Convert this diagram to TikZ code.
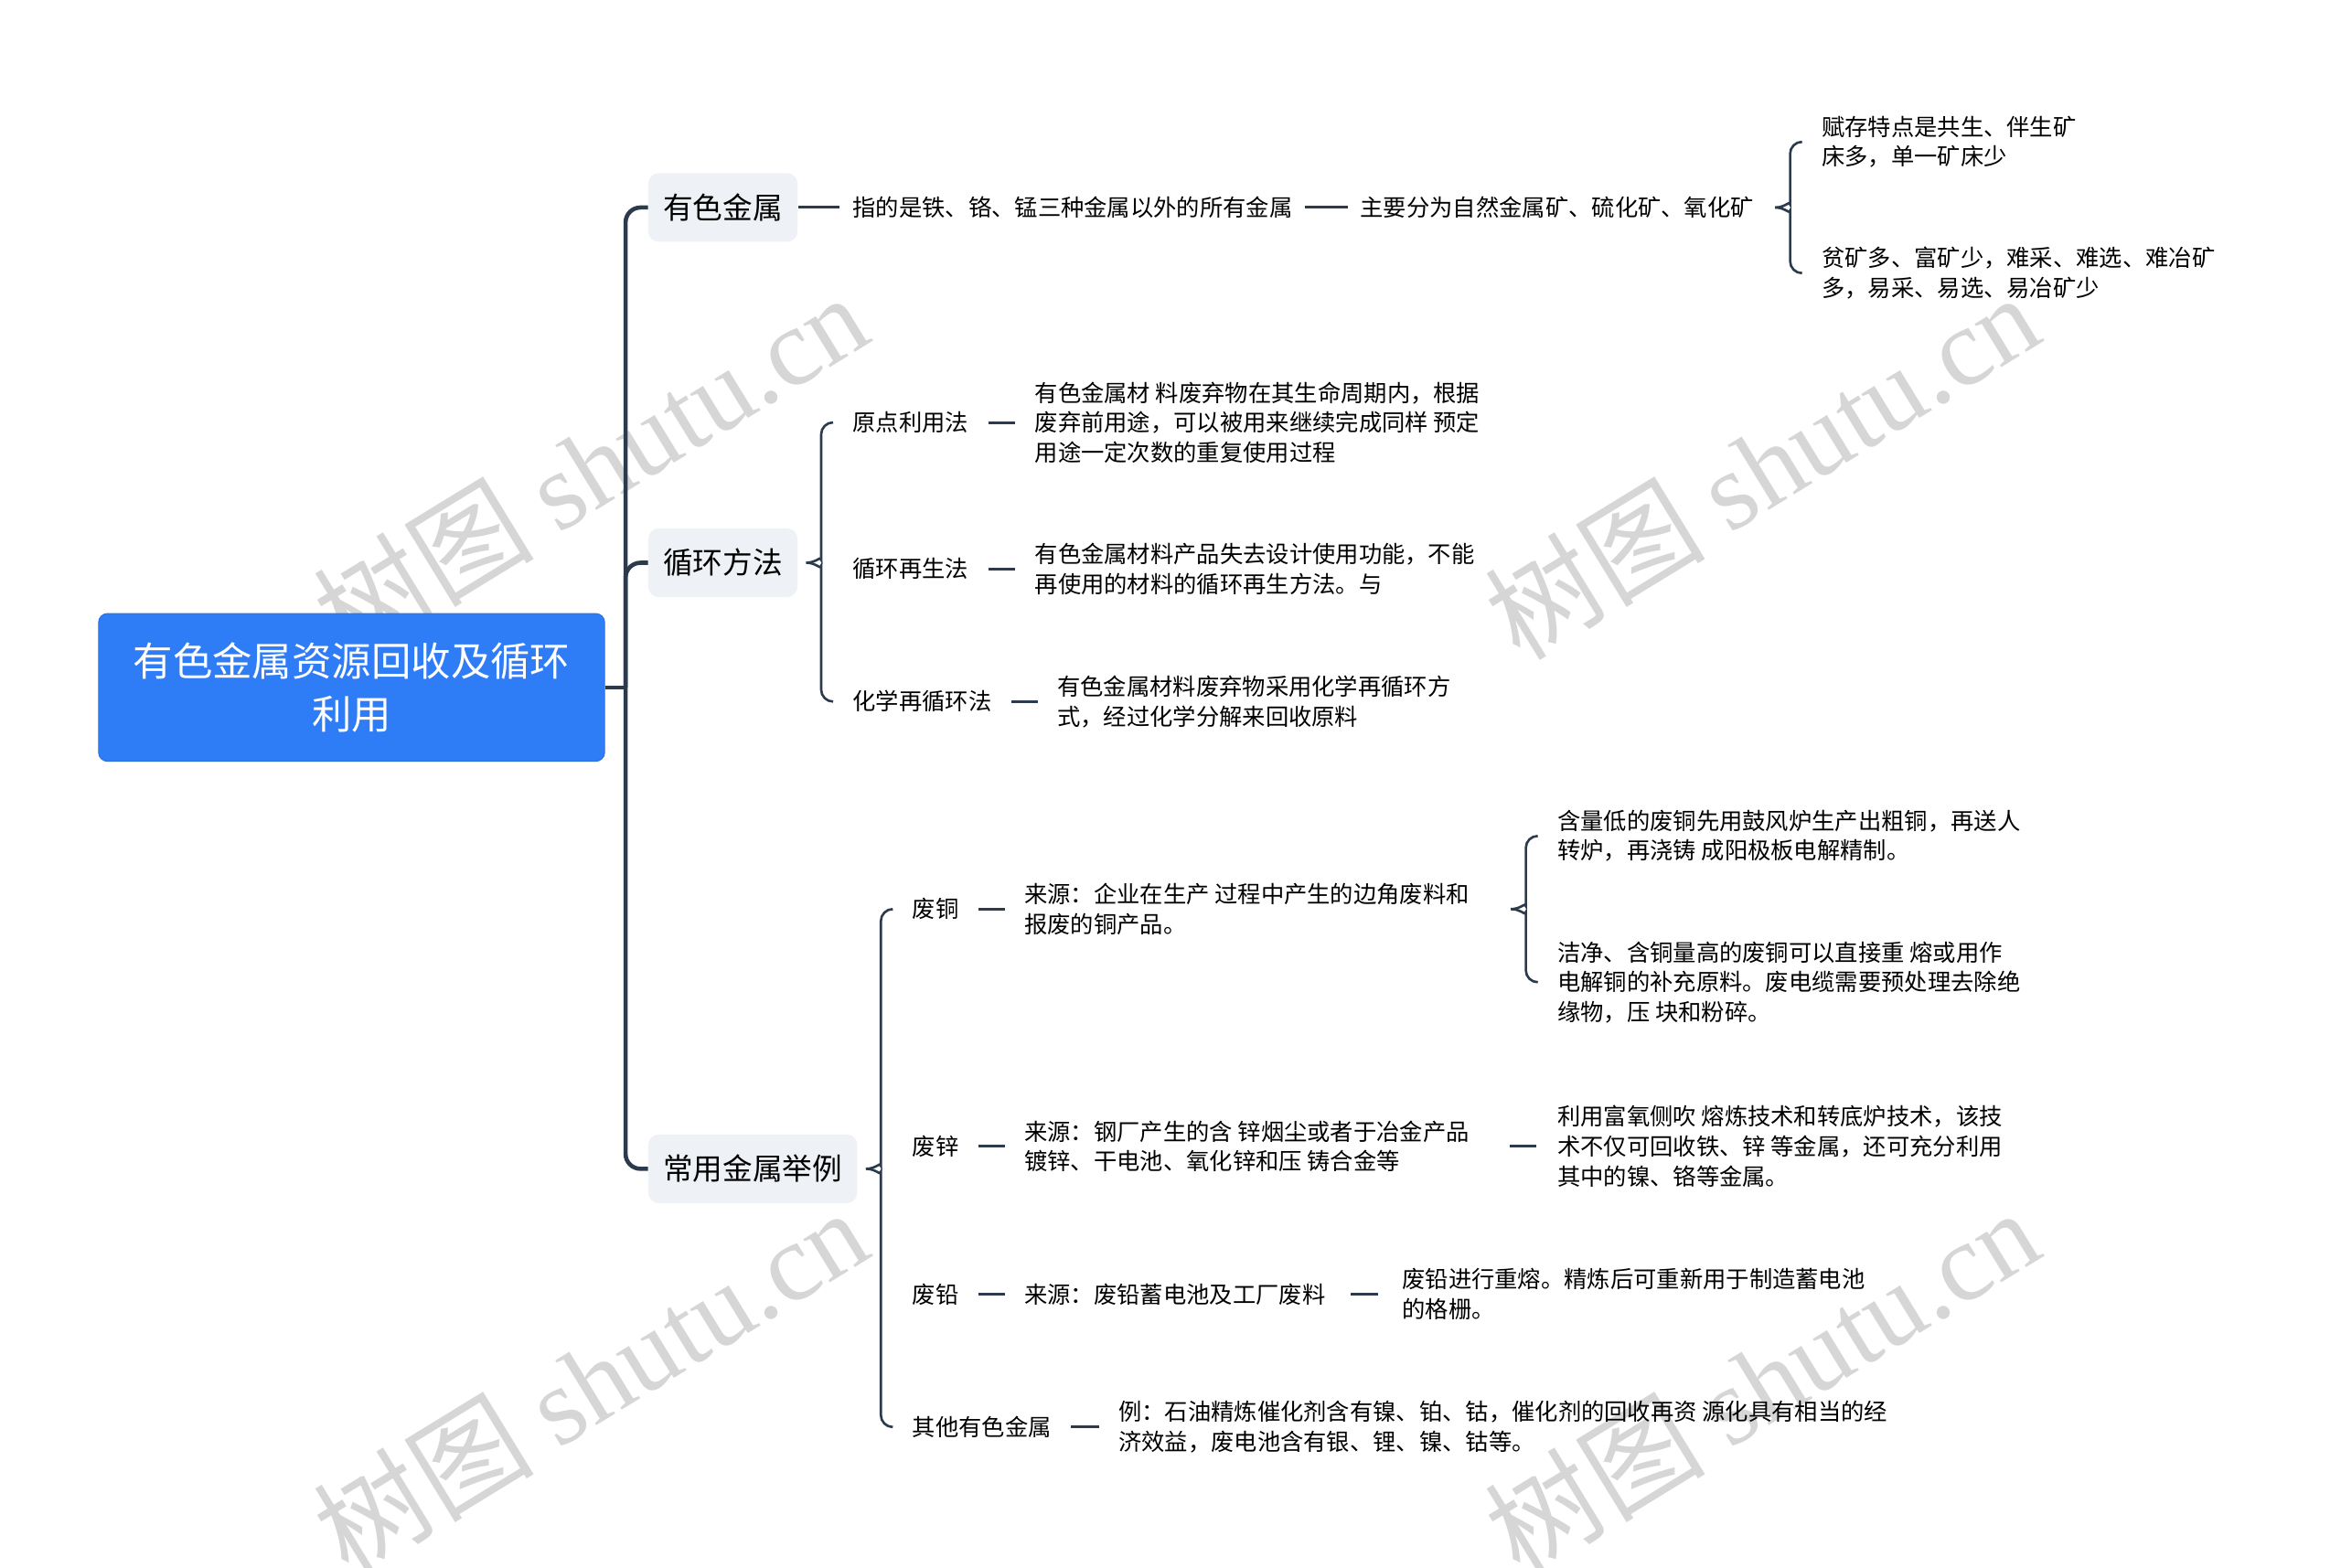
\documentclass[tikz,border=0pt]{standalone}
\usepackage{fontspec}
\setmainfont{Noto Sans CJK SC}
\newfontfamily\wmlatin{Liberation Serif}
\usetikzlibrary{calc}
\pgfdeclarelayer{background}
\pgfsetlayers{background,main}

\definecolor{rootblue}{RGB}{47,125,246}
\definecolor{boxgray}{RGB}{238,241,245}
\definecolor{linec}{RGB}{44,58,78}
\definecolor{markgray}{RGB}{214,214,214}

\tikzset{
  root/.style={rounded corners=6pt, fill=rootblue, draw=rootblue!90!black, line width=0.6pt, text=white, minimum width=339pt, minimum height=99pt, align=center, font=\fontsize{26.6}{36}\selectfont},
  topic/.style={rounded corners=7pt, fill=boxgray, anchor=west, minimum height=46pt, inner xsep=10pt, inner ysep=0pt, font=\fontsize{20}{24}\selectfont},
  leaf/.style={inner sep=0pt, align=left, anchor=west, font=\fontsize{15.5}{20}\selectfont},
  trunk/.style={draw=linec, line width=2.8pt, rounded corners=10pt},
  brace/.style={draw=linec, line width=1.6pt, rounded corners=8pt},
  link/.style={draw=linec, line width=1.8pt, shorten <=13pt, shorten >=13pt},
  wmark/.style={text=markgray, rotate=31.5, inner sep=0pt, font=\fontsize{74}{74}\selectfont}
}

\begin{document}
\begin{tikzpicture}[x=1pt,y=-1pt]
\useasboundingbox (0,0) rectangle (1568,1050);

\begin{pgfonlayer}{background}
\fill[white] (0,0) rectangle (1568,1050);
\foreach \wx/\wy in {395/312,1180/312,395/925,1180/925}
  \node[wmark] (wm-\wx-\wy) at (\wx,\wy) {树图 {\wmlatin shutu.cn}};
\end{pgfonlayer}

% root and main branches
\node[root] (root) at (235.5,460.5) {有色金属资源回收及循环\\利用};
\node[topic] (k1) at (434,139) {有色金属};
\node[topic] (k2) at (434,377) {循环方法};
\node[topic] (k3) at (434,783) {常用金属举例};

\coordinate (rj) at (419,460.5);
\draw[trunk] (root.east) -- (rj);
\draw[trunk] (rj) |- (k1.west);
\draw[trunk] (rj) |- (k2.west);
\draw[trunk] (rj) |- (k3.west);

% 有色金属
\node[leaf] (d1) at (571,139) {指的是铁、铬、锰三种金属以外的所有金属};
\node[leaf] (d2) at (911,139) {主要分为自然金属矿、硫化矿、氧化矿};
\node[leaf] (d3) at (1220,95) {赋存特点是共生、伴生矿\\床多，单一矿床少};
\node[leaf] (d4) at (1220,183) {贫矿多、富矿少，难采、难选、难冶矿\\多，易采、易选、易冶矿少};

\draw[link, shorten <=0pt, shorten >=9pt] (k1.east) -- (d1.west);
\draw[link, shorten <=8pt, shorten >=8pt] (d1.east) -- (d2.west);
\draw[brace] ($(d3.west |- d2.east)+(-31,0)$) .. controls +(7,0) and +(0,5) .. ++(10,-10) |- ([xshift=-13pt]d3.west);
\draw[brace] ($(d4.west |- d2.east)+(-31,0)$) .. controls +(7,0) and +(0,-5) .. ++(10,10) |- ([xshift=-13pt]d4.west);

% 循环方法
\node[leaf] (e1) at (571,283) {原点利用法};
\node[leaf] (e2) at (571,381) {循环再生法};
\node[leaf] (e3) at (571,470) {化学再循环法};
\node[leaf] (e1t) at (693,283) {有色金属材 料废弃物在其生命周期内，根据\\废弃前用途，可以被用来继续完成同样 预定\\用途一定次数的重复使用过程};
\node[leaf] (e2t) at (693,381) {有色金属材料产品失去设计使用功能，不能\\再使用的材料的循环再生方法。与};
\node[leaf] (e3t) at (708,470) {有色金属材料废弃物采用化学再循环方\\式，经过化学分解来回收原料};

\draw[brace] ($(e1.west |- k2.east)+(-31,0)$) .. controls +(7,0) and +(0,5) .. ++(10,-10) |- ([xshift=-13pt]e1.west);
\draw[brace] ($(e3.west |- k2.east)+(-31,0)$) .. controls +(7,0) and +(0,-5) .. ++(10,10) |- ([xshift=-13pt]e3.west);
\draw[link] (e1.east) -- (e1t.west);
\draw[link] (e2.east) -- (e2t.west);
\draw[link] (e3.east) -- (e3t.west);

% 常用金属举例
\node[leaf] (f1) at (611,609) {废铜};
\node[leaf] (f2) at (611,768) {废锌};
\node[leaf] (f3) at (611,867) {废铅};
\node[leaf] (f4) at (611,956) {其他有色金属};

\draw[brace] ($(f1.west |- k3.east)+(-31,0)$) .. controls +(7,0) and +(0,5) .. ++(10,-10) |- ([xshift=-13pt]f1.west);
\draw[brace] ($(f4.west |- k3.east)+(-31,0)$) .. controls +(7,0) and +(0,-5) .. ++(10,10) |- ([xshift=-13pt]f4.west);

\node[leaf] (f1t) at (686,609) {来源：企业在生产 过程中产生的边角废料和\\报废的铜产品。};
\node[leaf] (f1a) at (1043,560) {含量低的废铜先用鼓风炉生产出粗铜，再送人\\转炉，再浇铸 成阳极板电解精制。};
\node[leaf] (f1b) at (1043,658) {洁净、含铜量高的废铜可以直接重 熔或用作\\电解铜的补充原料。废电缆需要预处理去除绝\\缘物，压 块和粉碎。};
\draw[link] (f1.east) -- (f1t.west);
\draw[brace] ($(f1a.west |- f1t.east)+(-31,0)$) .. controls +(7,0) and +(0,5) .. ++(10,-10) |- ([xshift=-13pt]f1a.west);
\draw[brace] ($(f1b.west |- f1t.east)+(-31,0)$) .. controls +(7,0) and +(0,-5) .. ++(10,10) |- ([xshift=-13pt]f1b.west);

\node[leaf] (f2t) at (686,768) {来源：钢厂产生的含 锌烟尘或者于冶金产品\\镀锌、干电池、氧化锌和压 铸合金等};
\node[leaf] (f2a) at (1043,768) {利用富氧侧吹 熔炼技术和转底炉技术，该技\\术不仅可回收铁、锌 等金属，还可充分利用\\其中的镍、铬等金属。};
\draw[link] (f2.east) -- (f2t.west);
\draw[link, shorten <=27pt, shorten >=14pt] (f2t.east) -- (f2a.west);

\node[leaf] (f3t) at (686,867) {来源：废铅蓄电池及工厂废料};
\node[leaf] (f3a) at (939,867) {废铅进行重熔。精炼后可重新用于制造蓄电池\\的格栅。};
\draw[link] (f3.east) -- (f3t.west);
\draw[link, shorten <=17pt, shorten >=16pt] (f3t.east) -- (f3a.west);

\node[leaf] (f4t) at (749,956) {例：石油精炼催化剂含有镍、铂、钴，催化剂的回收再资 源化具有相当的经\\济效益，废电池含有银、锂、镍、钴等。};
\draw[link] (f4.east) -- (f4t.west);
\end{tikzpicture}
\end{document}
